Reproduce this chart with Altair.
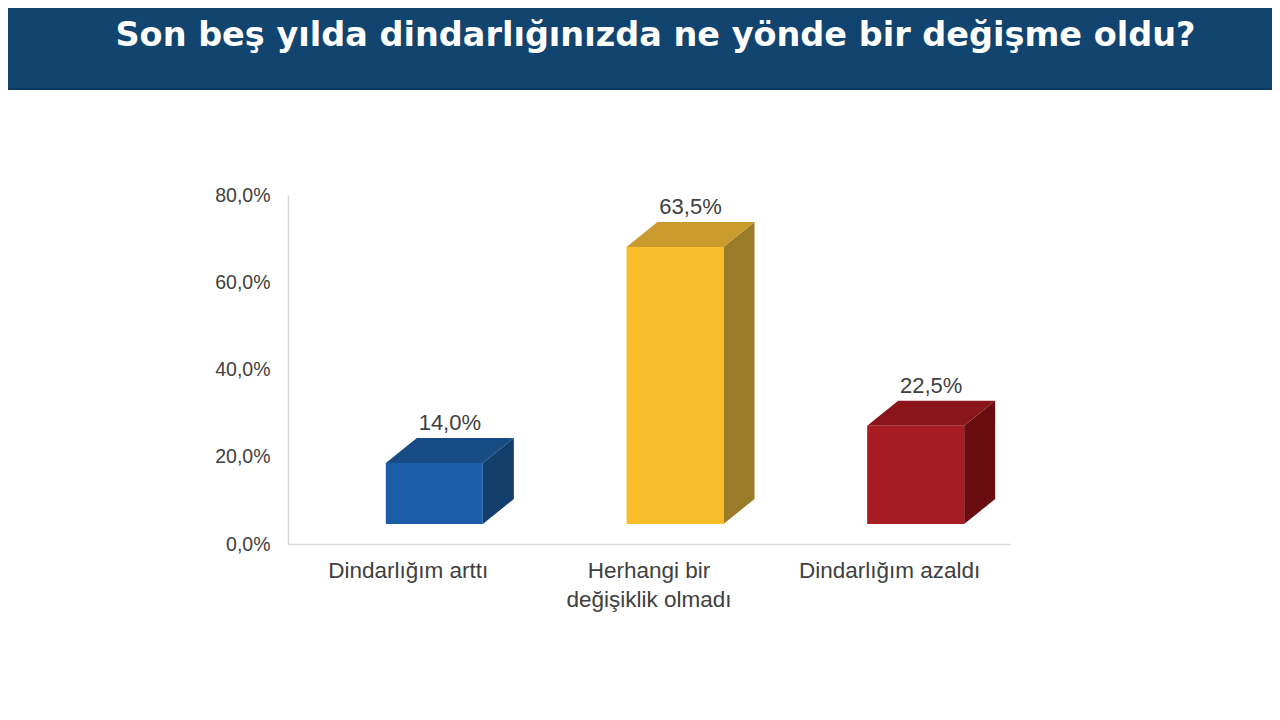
import altair as alt
import pandas as pd

# ---- data ----
categories = ["Dindarlığım arttı", "Herhangi bir\ndeğişiklik olmadı", "Dindarlığım azaldı"]
values = [14.0, 63.5, 22.5]
front_colors = ["#1b5ea7", "#fbbd2c", "#a81d24"]
top_colors = ["#174b83", "#c99a2c", "#8a161c"]
side_colors = ["#133d6b", "#9a7b27", "#6a0d10"]
y_ticks = [0, 20, 40, 60, 80]
title_text = "Son beş yılda dindarlığınızda ne yönde bir değişme oldu?"

# ---- geometry (pixel → data conversions for the pseudo-3D look) ----
W, H = 722, 349
XMAX, YMAX = 3, 80
PXX = XMAX / W
PXY = YMAX / H
FRONT_L, FRONT_R = -22.5 * PXX, 74.5 * PXX
SHIFT = 20 * PXY
DX, DY = 31 * PXX, 25 * PXY
LABEL_DX = 41.5 * PXX

front_rows, top_rows, side_rows, lab_rows = [], [], [], []
for i, (cat, v) in enumerate(zip(categories, values)):
    c = i + 0.5
    xl, xr = c + FRONT_L, c + FRONT_R
    front_rows.append(dict(k=i, xl=xl, xr=xr, y0=SHIFT, y1=v + SHIFT, col=front_colors[i]))
    top_rows += [
        dict(k=i, y=v + SHIFT, x=xl, x2=xr, col=top_colors[i]),
        dict(k=i, y=v + SHIFT + DY, x=xl + DX, x2=xr + DX, col=top_colors[i]),
    ]
    side_rows += [
        dict(k=i, x=xr, y=SHIFT, y2=v + SHIFT, col=side_colors[i]),
        dict(k=i, x=xr + DX, y=SHIFT + DY, y2=v + SHIFT + DY, col=side_colors[i]),
    ]
    lab_rows.append(dict(k=i, x=c + LABEL_DX, y=v + SHIFT + DY, value=v, cat=cat, c=c))

front_df = pd.DataFrame(front_rows)
top_df = pd.DataFrame(top_rows)
side_df = pd.DataFrame(side_rows)
lab_df = pd.DataFrame(lab_rows)

xs = alt.Scale(domain=[0, XMAX], nice=False, zero=False)
ys = alt.Scale(domain=[0, YMAX], nice=False)
FONT = "Liberation Sans"
TXT = "#404040"

front = alt.Chart(front_df).mark_rect().encode(
    x=alt.X("xl:Q", scale=xs),
    x2="xr:Q",
    y=alt.Y("y0:Q", scale=ys, axis=alt.Axis(values=y_ticks)),
    y2="y1:Q",
    color=alt.Color("col:N", scale=None),
)

top = alt.Chart(top_df).mark_area(orient="horizontal").encode(
    y=alt.Y("y:Q", scale=ys),
    x=alt.X("x:Q", scale=xs),
    x2="x2:Q",
    detail="k:N",
    color=alt.Color("col:N", scale=None),
)

side = alt.Chart(side_df).mark_area(orient="vertical").encode(
    x=alt.X("x:Q", scale=xs),
    y=alt.Y("y:Q", scale=ys),
    y2="y2:Q",
    detail="k:N",
    color=alt.Color("col:N", scale=None),
)

vlabels = alt.Chart(lab_df).transform_calculate(
    txt="replace(format(datum.value, '.1f'), '.', ',') + '%'"
).mark_text(font=FONT, fontSize=22, color=TXT, align="center", baseline="alphabetic", dy=-8).encode(
    x=alt.X("x:Q", scale=xs),
    y=alt.Y("y:Q", scale=ys),
    text="txt:N",
)

clabels = alt.Chart(lab_df).mark_text(font=FONT, fontSize=22.5, color=TXT, align="center",
                                       baseline="alphabetic", lineBreak="\n", lineHeight=29).encode(
    x=alt.X("c:Q", scale=xs),
    y=alt.value(383),
    text="cat:N",
)

banner = alt.Chart(pd.DataFrame({"t": [title_text]})).mark_rect(color="#11446f").encode(
    x=alt.value(-290), x2=alt.value(990), y=alt.value(-200), y2=alt.value(-105)
)
banner_line = alt.Chart(pd.DataFrame({"t": [title_text]})).mark_rect(color="#0c375e").encode(
    x=alt.value(-290), x2=alt.value(990), y=alt.value(-107), y2=alt.value(-105)
)
title = alt.Chart(pd.DataFrame({"t": [title_text]})).mark_text(
    font="DejaVu Sans", fontSize=33.5, fontWeight="bold", color="white", align="center", baseline="alphabetic"
).encode(x=alt.value(367.5), y=alt.value(-149), text="t:N")

chart = alt.layer(banner, banner_line, title, side, top, front, vlabels, clabels).properties(
    width=W, height=H,
    padding={"left": 280, "top": 187, "right": 262, "bottom": 168},
    autosize=alt.AutoSizeParams(type="none"),
    background="white",
).configure_view(stroke=None).configure_axis(
    grid=False, ticks=False, title=None, domainColor="#d9d9d9", domainWidth=1.5,
).configure_axisX(labels=False).configure_axisY(
    labelExpr="replace(format(datum.value, '.1f'), '.', ',') + '%'",
    labelFont=FONT, labelFontSize=19.5, labelColor=TXT, labelPadding=18,
)

chart.save("out.html", embed_options={"renderer": "svg", "actions": False})
